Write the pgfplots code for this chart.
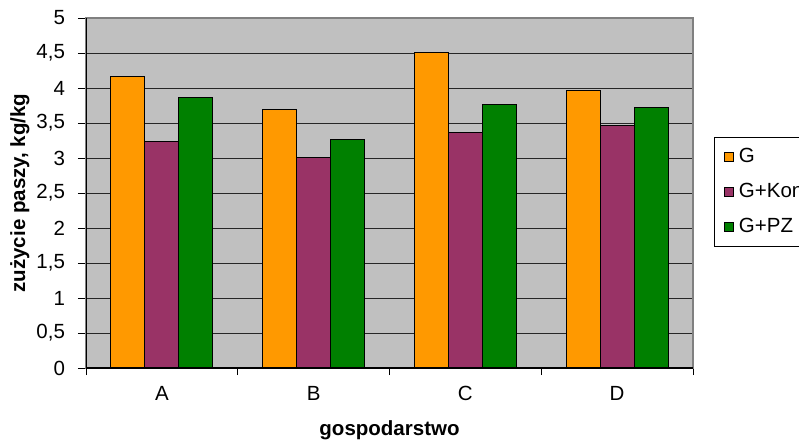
\documentclass[border=0pt]{standalone}
\usepackage{fontspec}
\setmainfont{Liberation Sans}
\usepackage{pgfplots}
\pgfplotsset{compat=1.18}
\definecolor{barG}{HTML}{FF9900}
\definecolor{barKon}{HTML}{993366}
\definecolor{barPZ}{HTML}{008000}
\definecolor{plotbg}{HTML}{C0C0C0}
\definecolor{frame}{HTML}{808080}
\newcommand{\chartfont}{\fontsize{20.5}{24}\selectfont}
\begin{document}
\chartfont
\begin{tikzpicture}[x=1pt,y=1pt]
\clip (0,0) rectangle (799,441);
\begin{axis}[
  at={(86pt,73pt)}, anchor=south west,
  width=607pt, height=350pt, scale only axis,
  ybar=0pt, bar width=0.224,
  xmin=0.5, xmax=4.5, ymin=0, ymax=5,
  ytick={0,0.5,...,5},
  xtick={1,2,3,4}, xticklabels={A,B,C,D},
  major x tick style={draw=none},
  minor xtick={0.5,1.5,2.5,3.5,4.5},
  minor tick length=7pt, major tick length=8pt,
  tick align=outside,
  xtick pos=bottom, ytick pos=left,
  tick style={black, line width=0.7pt},
  ymajorgrids,
  grid style={black!85, line width=0.8pt},
  axis background/.style={fill=plotbg},
  axis line style={frame, line width=1.2pt},
  /pgf/number format/.cd, use comma, assume math mode=true,
  /pgfplots/.cd,
  yticklabel style={font=\chartfont, xshift=-6pt},
  xticklabel style={font=\chartfont, yshift=-3pt},
  xlabel={gospodarstwo},
  ylabel={zużycie paszy, kg/kg},
  xlabel style={font=\bfseries\chartfont, at={(axis description cs:0.5,-0.178)}, anchor=center},
  ylabel style={font=\bfseries\chartfont, at={(axis description cs:-0.109,0.5)}, anchor=center},
  legend image code/.code={\draw[#1,draw=black,line width=0.7pt] (0pt,-4.5pt) rectangle (9pt,4.5pt);
    \path[draw=none,fill=none] (0pt,0pt) -- (13pt,0pt);},
  legend style={at={(1.035,0.659)}, anchor=north west, draw=black, fill=white,
    line width=0.7pt, font=\chartfont,
    row sep=14pt, inner xsep=9pt, inner ysep=8pt},
  legend cell align=left,
]
\addplot[fill=barG, draw=black, line width=1pt] coordinates {(1,4.17) (2,3.69) (3,4.51) (4,3.97)};
\addplot[fill=barKon, draw=black, line width=1pt] coordinates {(1,3.24) (2,3.00) (3,3.36) (4,3.47)};
\addplot[fill=barPZ, draw=black, line width=1pt] coordinates {(1,3.86) (2,3.26) (3,3.76) (4,3.72)};
\legend{G, G+Kon, G+PZ}
\draw[black, line width=1.2pt] (rel axis cs:0,0) -- (rel axis cs:0,1);
\draw[black, line width=1.2pt] (rel axis cs:0,0) -- (rel axis cs:1,0);
\end{axis}
\end{tikzpicture}
\end{document}
